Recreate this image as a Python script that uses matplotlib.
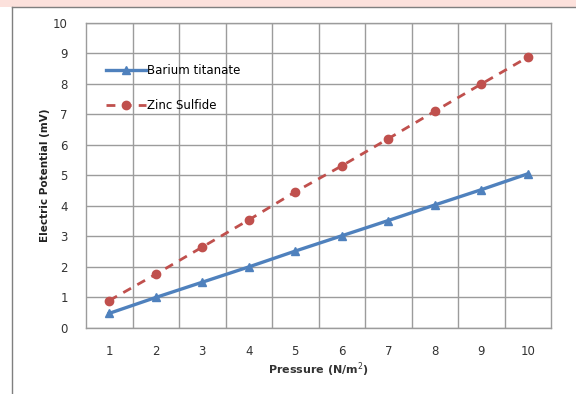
import numpy as np
import matplotlib.pyplot as plt
from matplotlib.lines import Line2D

pressure = [1, 2, 3, 4, 5, 6, 7, 8, 9, 10]
barium_titanate = [0.48, 1.0, 1.5, 2.0, 2.52, 3.02, 3.52, 4.03, 4.53, 5.05]
zinc_sulfide = [0.9, 1.76, 2.65, 3.54, 4.46, 5.31, 6.2, 7.1, 7.99, 8.87]

blue = '#4F81BD'
red = '#C0504D'
grid_grey = '#9C9C9C'

fig = plt.figure(figsize=(5.76, 3.94), dpi=100)

# page background: pink band on top, grey frame lines
fig.patches.append(plt.Rectangle((0, 1 - 7 / 394), 1, 7 / 394, transform=fig.transFigure,
                                 facecolor='#FCE1DC', edgecolor='none', zorder=0))
fig.lines.append(Line2D([12 / 576, 12 / 576], [0, 1 - 7 / 394], transform=fig.transFigure,
                        color='#7F7F7F', lw=1))
fig.lines.append(Line2D([12 / 576, 1], [1 - 7 / 394, 1 - 7 / 394], transform=fig.transFigure,
                        color='#7F7F7F', lw=1))

ax = fig.add_axes([86 / 576, (394 - 328) / 394, 465 / 576, 305.3 / 394])

ax.plot(pressure, barium_titanate, color=blue, lw=2.4, marker='^', markersize=6,
        label='Barium titanate', zorder=3)
ax.plot(pressure, zinc_sulfide, color=red, lw=2, linestyle=(0, (3.2, 2.6)), marker='o',
        markersize=6, label='Zinc Sulfide', zorder=3)

ax.set_xlim(0.5, 10.5)
ax.set_ylim(0, 10)
ax.set_xticks(pressure)
ax.set_xticks(np.arange(1.5, 10, 1), minor=True)
ax.set_yticks(range(0, 11))
ax.grid(False)
ax.grid(True, which='minor', axis='x', color=grid_grey, lw=1)
ax.grid(True, which='major', axis='y', color=grid_grey, lw=1)
ax.set_axisbelow(True)
for s in ax.spines.values():
    s.set_color(grid_grey)
    s.set_linewidth(1)

ax.tick_params(which='both', length=0, labelsize=8.5, colors='#333333')
ax.tick_params(axis='y', pad=13)
ax.tick_params(axis='x', pad=12)

ax.set_xlabel('Pressure (N/m$^2$)', fontsize=8, fontweight='bold', color='#333333', labelpad=2)
ax.set_ylabel('Electric Potential (mV)', fontsize=7.5, fontweight='bold', color='#222222', labelpad=2)

ax.legend(loc='upper left', bbox_to_anchor=(0.02, 0.9), frameon=False, fontsize=8.5,
          handlelength=3.4, handletextpad=0.1, labelspacing=1.9)

fig.savefig('out.png', dpi=100)
